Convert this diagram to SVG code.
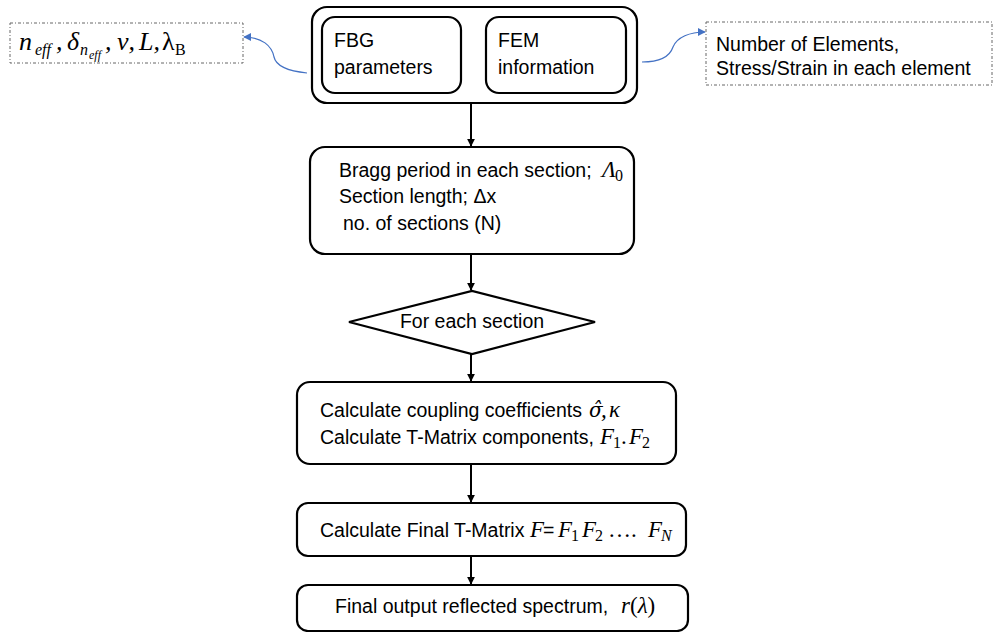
<svg xmlns="http://www.w3.org/2000/svg" width="993" height="632" viewBox="0 0 993 632">
  <style>
    .box { fill: #ffffff; stroke: #000000; stroke-width: 2.2; }
    .note { fill: #ffffff; stroke: #666666; stroke-width: 1; stroke-dasharray: 3 2 1 2; }
    .txt { font-family: "Liberation Sans", Arial, sans-serif; font-size: 19.5px; fill: #000000; }
    .math { font-family: "Liberation Serif", "Times New Roman", serif; font-style: italic; }
    .hat { font-family: "DejaVu Serif", "Liberation Serif", serif; font-style: italic; }
    .up { font-style: normal; }
    .m { font-size: 23px; }
    .mb { font-size: 26px; }
    .ms { font-size: 16px; }
    .mss { font-size: 12px; }
    .flow { stroke: #000000; stroke-width: 2; fill: none; }
    .link { stroke: #4472C4; stroke-width: 1.2; fill: none; }
  </style>
  <defs>
    <marker id="arrowBlack" viewBox="0 0 10 10" refX="9" refY="5" markerWidth="4" markerHeight="4" orient="auto">
      <path d="M0,0 L10,5 L0,10 Z" fill="#000000"/>
    </marker>
    <marker id="arrowBlue" viewBox="0 0 10 10" refX="9" refY="5" markerWidth="8" markerHeight="8" markerUnits="userSpaceOnUse" orient="auto">
      <path d="M0,0 L10,5 L0,10 Z" fill="#4472C4"/>
    </marker>
  </defs>

  <!-- connectors -->
  <g id="connectors">
    <line class="flow" x1="471" y1="103" x2="471" y2="146" marker-end="url(#arrowBlack)"/>
    <line class="flow" x1="471" y1="254" x2="471" y2="290" marker-end="url(#arrowBlack)"/>
    <line class="flow" x1="471" y1="354" x2="471" y2="381" marker-end="url(#arrowBlack)"/>
    <line class="flow" x1="471" y1="464" x2="471" y2="502" marker-end="url(#arrowBlack)"/>
    <line class="flow" x1="471" y1="556" x2="471" y2="584" marker-end="url(#arrowBlack)"/>
    <path class="link" d="M307,73 C288,71 276,66 274,57 C272,46 262,37 244,37" marker-end="url(#arrowBlue)"/>
    <path class="link" d="M642,62 C660,62 670,56 673,47 C677,37 690,32 705,32" marker-end="url(#arrowBlue)"/>
  </g>

  <!-- input group: FBG parameters + FEM information -->
  <g id="inputs">
    <rect class="box" x="312" y="7" width="325" height="96" rx="15" ry="15"/>
    <g id="fbg">
      <rect class="box" x="322" y="17" width="139" height="76" rx="13" ry="13"/>
      <text class="txt" x="334" y="47">FBG</text>
      <text class="txt" x="334" y="74">parameters</text>
    </g>
    <g id="fem">
      <rect class="box" x="486" y="17" width="140" height="76" rx="13" ry="13"/>
      <text class="txt" x="498" y="47">FEM</text>
      <text class="txt" x="498" y="74">information</text>
    </g>
  </g>

  <!-- FBG parameter note -->
  <g id="fbg-note">
    <rect class="note" x="10" y="23" width="233" height="40"/>
    <text class="math mb" y="50"><tspan x="19">n</tspan><tspan class="ms" x="35" y="55">eff</tspan><tspan x="56" y="50">,</tspan><tspan x="67">δ</tspan><tspan class="ms" x="80" y="55">n</tspan><tspan class="mss" x="89" y="59">eff</tspan><tspan x="105" y="50">,</tspan><tspan x="117">ν,</tspan><tspan x="139">L,</tspan><tspan class="up" x="162">λ</tspan><tspan class="ms up" x="175" y="55">B</tspan></text>
  </g>

  <!-- FEM information note -->
  <g id="fem-note">
    <rect class="note" x="706" y="22" width="286" height="63"/>
    <text class="txt" x="716" y="51">Number of Elements,</text>
    <text class="txt" x="716" y="75">Stress/Strain in each element</text>
  </g>

  <!-- section setup -->
  <g id="sections">
    <rect class="box" x="310" y="147" width="324" height="107" rx="15" ry="15"/>
    <text class="txt" x="339" y="177">Bragg period in each section; <tspan class="math m" x="602">Λ</tspan><tspan class="math up ms" x="615" y="181">0</tspan></text>
    <text class="txt" x="339" y="203">Section length; Δx</text>
    <text class="txt" x="343" y="230">no. of sections (N)</text>
  </g>

  <!-- loop decision -->
  <g id="loop">
    <polygon class="box" points="349,322 472,291 595,322 472,354"/>
    <text class="txt" x="472" y="328" text-anchor="middle">For each section</text>
  </g>

  <!-- coupling coefficients and T-matrix components -->
  <g id="coefficients">
    <rect class="box" x="297" y="382" width="379" height="82" rx="13" ry="13"/>
    <text class="txt" x="320" y="417">Calculate coupling coefficients <tspan class="hat" font-size="20" x="589">σ̂</tspan><tspan class="math m" x="601">,</tspan><tspan class="math m" x="609">κ</tspan></text>
    <text class="txt" x="320" y="444">Calculate T-Matrix components, <tspan class="math m" x="600">F</tspan><tspan class="math up ms" x="613" y="448">1</tspan><tspan class="math up m" x="621" y="444">.</tspan><tspan class="math m" x="629" y="444">F</tspan><tspan class="math up ms" x="642" y="448">2</tspan></text>
  </g>

  <!-- final T-matrix -->
  <g id="final-matrix">
    <rect class="box" x="297" y="503" width="389" height="53" rx="11" ry="11"/>
    <text class="txt" x="320" y="537">Calculate Final T-Matrix <tspan class="math m" x="530">F</tspan><tspan x="543">=</tspan><tspan class="math m" x="558">F</tspan><tspan class="math up ms" x="571" y="541">1</tspan><tspan class="math m" x="582" y="537">F</tspan><tspan class="math up ms" x="595" y="541">2</tspan><tspan class="math up m" x="608" y="537">….</tspan><tspan class="math m" x="648">F</tspan><tspan class="math ms" x="661" y="541">N</tspan></text>
  </g>

  <!-- output -->
  <g id="output">
    <rect class="box" x="297" y="585" width="391" height="46" rx="11" ry="11"/>
    <text class="txt" x="335" y="613">Final output reflected spectrum, <tspan class="math m" x="621">r</tspan><tspan class="math up m">(</tspan><tspan class="math m">λ</tspan><tspan class="math up m">)</tspan></text>
  </g>
</svg>
